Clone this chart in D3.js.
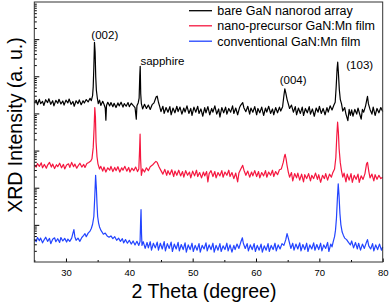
<!DOCTYPE html>
<html><head><meta charset="utf-8">
<script src="https://cdn.jsdelivr.net/npm/d3@7/dist/d3.min.js"></script>
<style>body{margin:0;background:#fff}svg{display:block}text{font-family:"Liberation Sans",Arial,sans-serif}</style>
</head><body><svg id="c" width="390" height="305"></svg>
<script>
const seriesNames = ["bare GaN nanorod array","nano-precursor GaN:Mn film","conventional GaN:Mn film"];
const seriesColors = ["#000000","#f5173f","#2244ff"];
const stackFactor = [200, 4, 0.04];
const xTicks = [30,40,50,60,70,80];
const xMinorTicks = [25,35,45,55,65,75];
const peakLabels = [["(002)",34.55,"middle"],["sapphire",41.7,"start"],["(004)",64.6,"middle"],["(103)",72.9,"middle"]];

const bare = [[25.0,98],[25.3,114],[25.5,86],[25.8,120],[26.0,92],[26.3,106],[26.5,82],[26.8,117],[27.1,98],[27.3,124],[27.6,88],[27.9,110],[28.1,80],[28.4,112],[28.7,94],[28.9,120],[29.2,90],[29.5,108],[29.7,84],[30.0,114],[30.3,96],[30.5,122],[30.8,88],[31.1,105],[31.3,78],[31.6,110],[31.9,92],[32.1,116],[32.4,86],[32.7,110],[32.9,95],[33.2,118],[33.5,102],[33.8,128],[34.0,110],[34.2,150],[34.3,260],[34.4,880],[34.5,4100],[34.6,2300],[34.7,480],[34.8,210],[34.95,130],[35.1,92],[35.3,114],[35.5,82],[35.8,106],[36.0,88],[36.2,70],[36.3,33],[36.4,82],[36.6,100],[36.9,80],[37.1,98],[37.4,76],[37.6,94],[37.9,72],[38.2,96],[38.4,80],[38.7,100],[39.0,74],[39.2,92],[39.5,78],[39.8,98],[40.0,76],[40.3,94],[40.6,82],[40.9,72],[41.1,35],[41.2,80],[41.4,96],[41.55,130],[41.65,520],[41.72,930],[41.8,170],[41.9,92],[42.1,66],[42.4,88],[42.7,68],[43.0,84],[43.3,64],[43.6,86],[43.9,96],[44.1,120],[44.25,140],[44.4,146],[44.6,100],[44.8,76],[45.0,56],[45.3,78],[45.5,50],[45.8,72],[46.1,54],[46.4,76],[46.6,46],[46.9,70],[47.2,52],[47.5,78],[47.7,56],[48.0,74],[48.3,48],[48.6,70],[48.8,54],[49.1,80],[49.4,50],[49.7,68],[49.9,44],[50.2,74],[50.5,54],[50.8,78],[51.0,50],[51.3,66],[51.6,42],[51.9,72],[52.1,52],[52.4,76],[52.7,46],[53.0,68],[53.2,54],[53.5,80],[53.8,48],[54.1,66],[54.3,40],[54.6,72],[54.9,52],[55.2,74],[55.4,48],[55.7,68],[56.0,54],[56.3,80],[56.5,50],[56.8,70],[57.1,46],[57.4,72],[57.6,84],[57.9,98],[58.1,70],[58.4,56],[58.7,78],[59.0,48],[59.2,70],[59.5,54],[59.8,76],[60.1,46],[60.3,68],[60.6,52],[60.9,74],[61.2,44],[61.5,70],[61.7,54],[62.0,78],[62.3,50],[62.6,66],[62.8,46],[63.1,72],[63.4,52],[63.7,74],[63.9,58],[64.2,76],[64.4,150],[64.55,230],[64.7,180],[64.9,120],[65.1,90],[65.3,68],[65.6,84],[65.9,54],[66.2,76],[66.4,46],[66.7,70],[67.0,50],[67.3,74],[67.5,44],[67.8,68],[68.1,52],[68.4,76],[68.6,48],[68.9,66],[69.2,42],[69.5,70],[69.8,54],[70.0,78],[70.3,50],[70.6,68],[70.9,46],[71.2,72],[71.4,54],[71.7,80],[72.0,62],[72.3,84],[72.5,100],[72.65,250],[72.8,800],[72.9,1200],[73.0,650],[73.15,220],[73.3,120],[73.5,90],[73.7,58],[74.0,72],[74.2,48],[74.5,32],[74.7,64],[74.9,44],[75.1,62],[75.3,42],[75.6,64],[75.9,48],[76.1,70],[76.4,46],[76.6,35],[76.8,64],[77.0,54],[77.3,80],[77.5,120],[77.6,145],[77.75,90],[78.0,64],[78.3,48],[78.5,74],[78.8,44],[79.1,68],[79.4,52],[79.7,72],[80.0,56]];

const nanoPrecursor = [[25.0,102],[25.3,90],[25.5,112],[25.8,94],[26.1,117],[26.3,86],[26.6,106],[26.9,84],[27.1,102],[27.4,120],[27.7,90],[27.9,108],[28.2,82],[28.5,104],[28.7,92],[29.0,114],[29.3,86],[29.6,106],[29.8,80],[30.1,102],[30.4,110],[30.6,88],[30.9,120],[31.2,92],[31.4,108],[31.7,84],[32.0,102],[32.2,114],[32.5,90],[32.8,106],[33.0,88],[33.3,112],[33.6,120],[33.9,130],[34.1,150],[34.3,300],[34.45,1100],[34.55,3600],[34.65,2000],[34.75,420],[34.9,170],[35.05,110],[35.3,80],[35.5,94],[35.8,70],[36.0,90],[36.3,66],[36.6,86],[36.9,74],[37.1,94],[37.4,68],[37.7,88],[37.9,72],[38.2,92],[38.5,66],[38.8,86],[39.0,74],[39.3,94],[39.6,70],[39.9,88],[40.1,66],[40.4,84],[40.7,72],[41.0,90],[41.3,68],[41.5,80],[41.62,260],[41.7,690],[41.78,150],[41.9,54],[42.1,80],[42.4,66],[42.7,86],[43.0,72],[43.3,92],[43.7,104],[44.0,118],[44.2,128],[44.4,120],[44.7,90],[45.0,72],[45.3,58],[45.6,78],[45.9,54],[46.1,72],[46.4,56],[46.7,76],[47.0,50],[47.2,70],[47.5,54],[47.8,74],[48.1,52],[48.4,68],[48.6,48],[48.9,72],[49.2,54],[49.5,66],[49.7,46],[50.0,70],[50.3,52],[50.6,74],[50.8,50],[51.1,64],[51.4,46],[51.7,66],[51.9,52],[52.2,68],[52.4,36],[52.6,60],[52.9,72],[53.2,50],[53.5,68],[53.7,46],[54.0,64],[54.3,52],[54.6,72],[54.8,48],[55.1,66],[55.4,54],[55.7,74],[55.9,50],[56.2,64],[56.5,44],[56.8,62],[57.1,36],[57.3,62],[57.6,80],[57.9,100],[58.1,74],[58.4,54],[58.7,70],[59.0,48],[59.3,66],[59.5,52],[59.8,72],[60.1,50],[60.4,68],[60.6,46],[60.9,64],[61.2,52],[61.5,72],[61.7,48],[62.0,66],[62.3,54],[62.6,74],[62.8,50],[63.1,68],[63.4,56],[63.7,76],[64.0,80],[64.3,120],[64.5,180],[64.6,198],[64.75,150],[64.9,100],[65.1,66],[65.3,48],[65.6,64],[65.8,38],[66.1,60],[66.4,46],[66.6,62],[66.9,40],[67.2,58],[67.5,36],[67.7,56],[68.0,44],[68.3,60],[68.6,38],[68.8,54],[69.1,44],[69.4,62],[69.7,42],[69.9,56],[70.2,35],[70.5,54],[70.8,44],[71.0,60],[71.3,40],[71.6,58],[71.9,48],[72.1,62],[72.4,80],[72.6,160],[72.75,600],[72.88,1450],[73.0,800],[73.12,280],[73.3,120],[73.5,70],[73.7,48],[73.9,62],[74.2,36],[74.4,58],[74.7,40],[75.0,60],[75.2,35],[75.5,54],[75.8,42],[76.1,58],[76.3,35],[76.6,52],[76.9,42],[77.2,60],[77.45,110],[77.6,120],[77.8,70],[78.0,46],[78.3,58],[78.6,38],[78.8,56],[79.1,42],[79.4,54],[79.7,44],[80.0,48]];

const conventional = [[25.0,104],[25.3,88],[25.5,114],[25.8,94],[26.0,110],[26.3,82],[26.6,102],[26.8,116],[27.1,90],[27.4,108],[27.6,78],[27.9,102],[28.2,112],[28.4,88],[28.7,106],[29.0,84],[29.2,114],[29.5,92],[29.8,108],[30.1,86],[30.3,104],[30.6,90],[30.9,110],[31.1,150],[31.25,186],[31.4,120],[31.6,96],[31.9,110],[32.2,90],[32.5,114],[32.8,130],[33.0,145],[33.2,120],[33.5,150],[33.8,170],[34.0,200],[34.2,260],[34.4,420],[34.55,1500],[34.68,5400],[34.8,2400],[34.9,900],[35.0,420],[35.15,280],[35.3,220],[35.5,180],[35.7,160],[35.9,140],[36.2,150],[36.5,126],[36.8,116],[37.1,126],[37.4,106],[37.7,120],[38.0,96],[38.3,110],[38.6,90],[38.9,106],[39.1,82],[39.4,100],[39.7,80],[40.0,96],[40.3,76],[40.6,92],[40.9,72],[41.2,90],[41.5,70],[41.7,90],[41.78,300],[41.85,640],[41.93,140],[42.0,70],[42.2,88],[42.5,58],[42.8,84],[43.0,60],[43.3,88],[43.5,52],[43.8,80],[44.1,60],[44.4,86],[44.6,52],[44.9,80],[45.2,56],[45.5,88],[45.7,50],[46.0,78],[46.3,58],[46.6,86],[46.8,48],[47.1,76],[47.4,56],[47.7,84],[47.9,50],[48.2,74],[48.5,54],[48.8,82],[49.0,46],[49.3,72],[49.6,54],[49.9,80],[50.1,48],[50.4,70],[50.7,52],[51.0,78],[51.2,46],[51.5,70],[51.8,56],[52.1,82],[52.3,50],[52.6,72],[52.9,54],[53.2,80],[53.4,46],[53.7,70],[54.0,52],[54.3,78],[54.5,48],[54.8,68],[55.1,54],[55.4,80],[55.6,50],[55.9,72],[56.2,46],[56.5,70],[56.7,54],[57.0,76],[57.3,58],[57.6,86],[57.85,112],[58.0,80],[58.3,58],[58.6,78],[58.8,50],[59.1,72],[59.4,54],[59.7,78],[59.9,48],[60.2,70],[60.5,52],[60.8,76],[61.0,46],[61.3,68],[61.6,52],[61.9,78],[62.1,48],[62.4,70],[62.7,54],[63.0,80],[63.2,50],[63.5,72],[63.8,56],[64.1,78],[64.4,70],[64.7,100],[64.9,145],[65.1,110],[65.3,80],[65.5,58],[65.8,80],[66.0,52],[66.3,76],[66.6,56],[66.9,82],[67.1,50],[67.4,74],[67.7,54],[68.0,80],[68.2,48],[68.5,72],[68.8,56],[69.1,82],[69.3,52],[69.6,74],[69.9,54],[70.2,80],[70.4,50],[70.7,72],[71.0,58],[71.3,84],[71.5,48],[71.8,76],[72.0,64],[72.2,90],[72.4,120],[72.55,180],[72.7,380],[72.85,1300],[72.98,3200],[73.1,1600],[73.25,500],[73.4,250],[73.6,160],[73.8,130],[74.0,110],[74.3,100],[74.6,84],[74.9,72],[75.1,92],[75.4,60],[75.7,84],[76.0,56],[76.2,80],[76.5,52],[76.8,76],[77.1,58],[77.4,82],[77.6,100],[77.8,68],[78.1,56],[78.4,78],[78.6,50],[78.9,72],[79.2,54],[79.5,76],[79.8,52],[80.0,64]];

const seriesData = [bare, nanoPrecursor, conventional];

const svg = d3.select("#c");
const L = 34.3, R = 382.7, T = 2, B = 262;
const x = d3.scaleLinear().domain([25, 80]).range([L, R]);
const y = d3.scaleLog().domain([1, 1e7]).range([B, T]);

// series
const line = d3.line().x(d => x(d[0]));
seriesData.forEach((s, i) => {
  svg.append("path").datum(s)
    .attr("fill", "none").attr("stroke", seriesColors[i]).attr("stroke-width", 1.2)
    .attr("stroke-linejoin", "round")
    .attr("d", line.y(d => y(d[1] * stackFactor[i])));
});

// x axis
const xa = svg.append("g").attr("transform", `translate(0,${B})`)
  .call(d3.axisBottom(x).tickValues(xTicks).tickSize(-3.5).tickPadding(7.5).tickFormat(d3.format("d")));
xa.select(".domain").remove();
xa.selectAll("text").attr("font-size", 9.5).attr("fill", "#000").style("font-family", '"Liberation Sans",Arial,sans-serif');
xa.selectAll("line").attr("stroke", "#000");
const xm = svg.append("g").attr("transform", `translate(0,${B})`)
  .call(d3.axisBottom(x).tickValues(xMinorTicks).tickSize(-2).tickFormat(""));
xm.select(".domain").remove();

// y axis (log, unlabeled)
const majors = [], minors = [];
for (let k = 0; k < 7; k++) {
  if (k > 0) majors.push(Math.pow(10, k));
  for (let m = 2; m <= 9; m++) minors.push(m * Math.pow(10, k));
}
const ya = svg.append("g").attr("transform", `translate(${L},0)`)
  .call(d3.axisLeft(y).tickValues(majors).tickSize(-5).tickFormat(""));
ya.select(".domain").remove();
const ym = svg.append("g").attr("transform", `translate(${L},0)`)
  .call(d3.axisLeft(y).tickValues(minors).tickSize(-2.5).tickFormat(""));
ym.select(".domain").remove();

// frame
svg.append("rect").attr("x", L).attr("y", T).attr("width", R - L).attr("height", B - T)
  .attr("fill", "none").attr("stroke", "#333").attr("stroke-width", 1);

// peak labels
const labelY = {"(002)": 38.5, "sapphire": 64.5, "(004)": 83.5, "(103)": 68.5};
const labelDx = {"(002)": 10, "sapphire": 0.3, "(004)": 8, "(103)": 22};
peakLabels.forEach(p => {
  svg.append("text").attr("x", x(p[1]) + labelDx[p[0]]).attr("y", labelY[p[0]])
    .attr("text-anchor", p[2]).attr("font-size", 11.5).text(p[0]);
});

// legend
const legY = [10.7, 25.8, 41.2];
seriesNames.forEach((n, i) => {
  svg.append("line").attr("x1", 189).attr("x2", 212).attr("y1", legY[i]).attr("y2", legY[i])
    .attr("stroke", seriesColors[i]).attr("stroke-width", 1.3);
  svg.append("text").attr("x", 217.3).attr("y", legY[i] + 4.4).attr("font-size", 12.5).text(n);
});

// axis titles
svg.append("text").attr("x", 204).attr("y", 297.5).attr("text-anchor", "middle")
  .attr("font-size", 19.5).text("2 Theta (degree)");
svg.append("text").attr("transform", "translate(21.5,125) rotate(-90)").attr("text-anchor", "middle")
  .attr("font-size", 19.5).text("XRD Intensity (a. u.)");
</script></body></html>
